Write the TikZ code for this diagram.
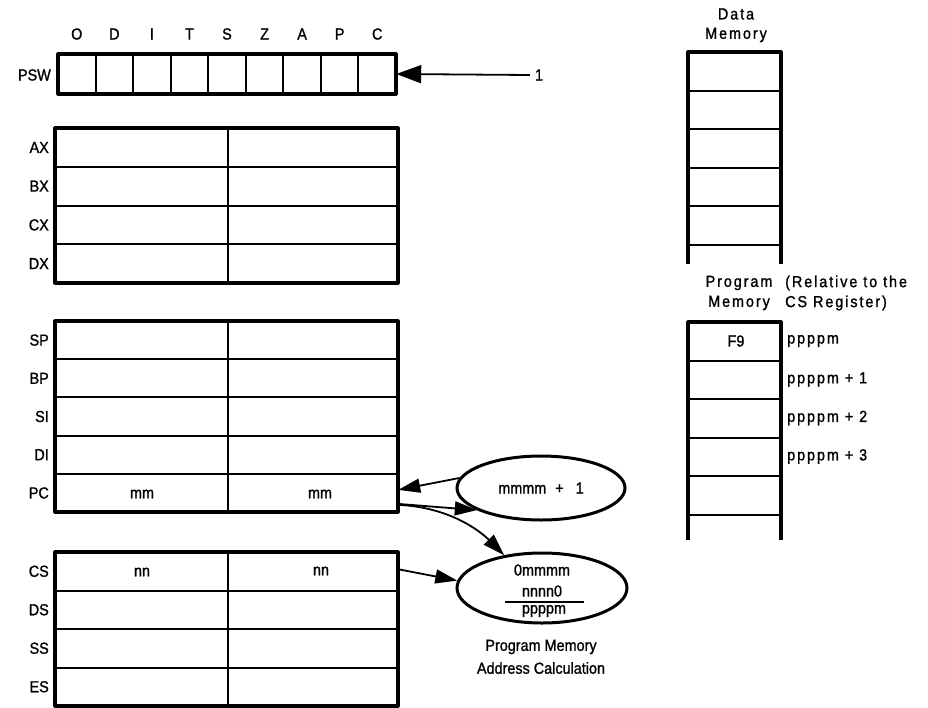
\documentclass[tikz,border=0pt]{standalone}
\usepackage{fontspec}
\setmainfont{Liberation Sans}[FakeStretch=0.9, FakeBold=1.2]
\newfontfamily\spaced{Liberation Sans}[LetterSpace=12, FakeStretch=0.9, FakeBold=1.2]
\usetikzlibrary{shapes.geometric,arrows.meta}
\begin{document}
\begin{tikzpicture}[x=1pt,y=-1pt,
  outer/.style={line width=3.2pt, line join=round},
  inner/.style={line width=2pt},
  txt/.style={font=\fontsize{16}{18}\selectfont, inner sep=0pt},
  rtxt/.style={font=\spaced\fontsize{16}{18}\selectfont, inner sep=0pt},
  arr/.style={line width=1.8pt, -{Triangle[length=22pt,width=14pt]}},
  oval/.style={ellipse, draw, line width=3pt, inner sep=0pt},
  rowbox/.style={minimum width=343pt, minimum height=38pt, inner sep=0pt}]
\useasboundingbox (0,0) rectangle (928,707);

% ---------------- PSW ----------------
\node[minimum width=338pt, minimum height=40pt, inner sep=0pt] (psw) at (227,74) {};
\foreach \i in {1,...,8} \draw[inner] ({58+37.556*\i},54) -- ({58+37.556*\i},94);
\draw[outer] (58,54) rectangle (396,94);
\foreach \l [count=\i] in {O,D,I,T,S,Z,A,P,C}
  \node[txt] (flag\i) at ({58+37.556*(\i-0.5)},34) {\l};
\node[txt, anchor=east] (pswlab) at (51,75) {PSW};
\node[txt] (one) at (539,75) {1};
\draw[line width=1.8pt, -{Triangle[length=25pt,width=18pt]}] ([xshift=-5pt]one.west) -- (psw.east);

% ---------------- AX..DX ----------------
\draw[inner] (228,128) -- (228,283);
\foreach \y in {166.75,205.5,244.25} \draw[inner] (55,\y) -- (398,\y);
\draw[outer] (55,128) rectangle (398,283);
\foreach \n/\y in {AX/147.4,BX/186.1,CX/224.9,DX/263.6}
  \node[txt, anchor=east] (lab\n) at (49,\y) {\n};

% ---------------- SP..PC ----------------
\draw[inner] (228,321) -- (228,512);
\foreach \y in {359.2,397.4,435.6,473.8} \draw[inner] (55,\y) -- (398,\y);
\draw[outer] (55,321) rectangle (398,512);
\foreach \n/\y in {SP/340.1,BP/378.3,SI/416.5,DI/454.7,PC/492.9}
  \node[txt, anchor=east] (lab\n) at (49,\y) {\n};
\node[rowbox] (pcrow) at (226.5,492.9) {};
\node[txt] (pclo) at (142,494) {mm};
\node[txt] (pchi) at (320,494) {mm};

% ---------------- CS..ES ----------------
\draw[inner] (228,552) -- (228,706);
\foreach \y in {590.5,629,667.5} \draw[inner] (55,\y) -- (398,\y);
\draw[outer] (55,552) rectangle (398,706);
\foreach \n/\y in {CS/571.25,DS/609.75,SS/648.25,ES/686.75}
  \node[txt, anchor=east] (lab\n) at (49,\y) {\n};
\node[rowbox] (csrow) at (226.5,571.25) {};
\node[txt] (cslo) at (142,572) {nn};
\node[txt] (cshi) at (321,571) {nn};

% ---------------- ellipses ----------------
\node[oval, minimum width=168pt, minimum height=64pt] (e1) at (541,488) {};
\node[txt] (e1t) at (541,488) {mmmm\hspace{9pt}+\hspace{12pt}1};
\node[oval, minimum width=170pt, minimum height=70pt] (e2) at (542,588) {};
\node[txt] (e2a) at (542,570) {0mmmm};
\node[txt] (e2b) at (542,591) {nnnn0};
\node[txt] (e2c) at (544,611) {ppppm};
\draw[line width=1.4pt] (505,602) -- (584,602);
\node[txt] (cap1) at (541,647) {Program Memory};
\node[txt] (cap2) at (541,668) {Address Calculation};

% ---------------- connectors ----------------
\draw[arr] (e1.173) -- ([yshift=3pt]pcrow.east);
\draw[arr] ([yshift=-11pt]pcrow.east) -- (e1.199);
\draw[arr] ([yshift=-12pt]pcrow.east) .. controls +(50,2) and +(-25,-25) .. (e2.139);
\draw[arr] ([yshift=2pt]csrow.east) -- (e2.175);

% ---------------- Data memory ----------------
\node[rtxt] (dm1) at (736,14) {Data};
\node[rtxt] (dm2) at (736,35) {Memory};
\foreach \y in {90.5,129,167.5,206,244.5} \draw[inner] (688,\y) -- (781,\y);
\draw[outer] (688,264) -- (688,52) -- (781,52) -- (781,264);

% ---------------- Program memory ----------------
\node[rtxt] (pm1) at (739,283) {Program};
\node[rtxt] (pm2) at (739,303) {Memory};
\node[rtxt, anchor=west] (rel1) at (785,283) {(Relative to the};
\node[rtxt, anchor=west] (rel2) at (785,303) {CS Register)};
\foreach \y in {360.5,399,437.5,476,514.5} \draw[inner] (688,\y) -- (781,\y);
\draw[outer] (688,540) -- (688,322) -- (781,322) -- (781,540);
\node[txt] (f9) at (736,341) {F9};
\node[rtxt, anchor=west] (a0) at (787,341) {ppppm};
\node[rtxt, anchor=west] (a1) at (787,379.5) {ppppm + 1};
\node[rtxt, anchor=west] (a2) at (787,418) {ppppm + 2};
\node[rtxt, anchor=west] (a3) at (787,456.5) {ppppm + 3};
\end{tikzpicture}
\end{document}
